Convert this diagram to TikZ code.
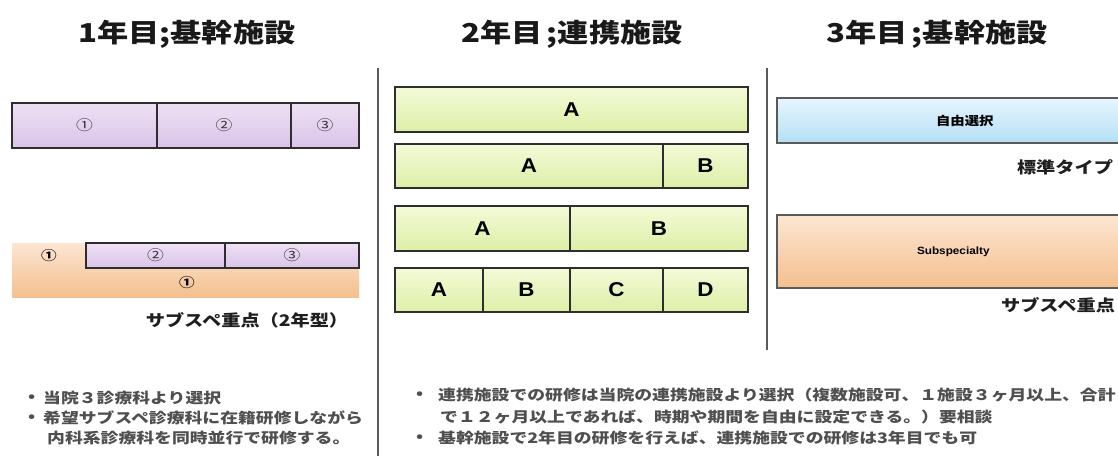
\documentclass[tikz,border=0pt]{standalone}
\usepackage{fontspec}
\newfontfamily\jp{Noto Sans CJK JP}[FakeStretch=1.2]
\newfontfamily\jpb{Noto Sans CJK JP}[FakeStretch=1.23]
\newfontfamily\lat{Liberation Sans}[FakeStretch=1.12]
\definecolor{pTop}{HTML}{EEE0F5}
\definecolor{pBot}{HTML}{D9C3E8}
\definecolor{gTop}{HTML}{F3FAD8}
\definecolor{gBot}{HTML}{DDEFA6}
\definecolor{bTop}{HTML}{E6F6FD}
\definecolor{bBot}{HTML}{B5DFF5}
\definecolor{oTop}{HTML}{FCE6D2}
\definecolor{oBot}{HTML}{F4BF8E}
\definecolor{edge}{HTML}{2E2E2E}
\definecolor{rule}{HTML}{5A5A5A}
\definecolor{txt}{HTML}{333333}
\definecolor{btxt}{HTML}{4F4F4F}
\begin{document}
\begin{tikzpicture}[x=1pt,y=-1pt,
  cellbase/.style={anchor=north west,inner sep=0pt,outer sep=0pt,draw=edge,line width=1.4pt},
  pcell/.style={cellbase,top color=pTop,bottom color=pBot,text=txt,font=\jp\fontsize{14}{15}\selectfont},
  gcell/.style={cellbase,top color=gTop,bottom color=gBot,text=black,font=\lat\bfseries\fontsize{20}{22}\selectfont},
  bcell/.style={cellbase,draw=rule,line width=1.2pt,top color=bTop,bottom color=bBot,font=\jp\bfseries\fontsize{12}{14}\selectfont},
  ocell/.style={cellbase,draw=rule,line width=1.2pt,top color=oTop,bottom color=oBot,font=\lat\bfseries\fontsize{10.5}{12}\selectfont},
  titletext/.style={font=\jp\bfseries\fontsize{26}{30}\selectfont,text=black!90,inner sep=0pt},
  label/.style={font=\jp\bfseries\fontsize{16}{18}\selectfont,text=black!88,inner sep=0pt},
  body/.style={font=\jpb\bfseries\fontsize{14.5}{16}\selectfont,text=btxt,inner sep=0pt,anchor=west},
  divider/.style={draw=rule,line width=2pt}
]
\useasboundingbox (0,0) rectangle (1118,456);
\clip (0,0) rectangle (1118,456);
\fill[white] (0,0) rectangle (1118,456);

% titles
\node[titletext] (t1) at (187,34) {1年目;基幹施設};
\node[titletext] (t2) at (572,34) {2年目\,;連携施設};
\node[titletext] (t3) at (937,34) {3年目\,;基幹施設};

% dividers
\coordinate (v1a) at (378,68);
\coordinate (v1b) at (378,456);
\coordinate (v2a) at (767,68);
\coordinate (v2b) at (767,350);
\draw[divider] (v1a) -- (v1b);
\draw[divider] (v2a) -- (v2b);

% year 1 standard
\node[pcell,minimum width=145pt,minimum height=45pt] (p1) at (12,103) {①};
\node[pcell,minimum width=134pt,minimum height=45pt] (p2) at (157,103) {②};
\node[pcell,minimum width=68pt,minimum height=45pt] (p3) at (291,103) {③};

% year 1 subspecialty
\node[anchor=north west,inner sep=0pt,outer sep=0pt,top color=oTop,bottom color=oBot,
  minimum width=347pt,minimum height=54pt] (ob) at (12,243) {};
\node[anchor=north west,inner sep=0pt,outer sep=0pt,minimum width=74pt,minimum height=26pt,
  font=\jp\bfseries\fontsize{13}{15}\selectfont] (o1) at (12,243) {①};
\node[pcell,minimum width=139pt,minimum height=25pt] (q2) at (86,243) {②};
\node[pcell,minimum width=134pt,minimum height=25pt] (q3) at (225,243) {③};
\node[font=\jp\bfseries\fontsize{13}{15}\selectfont,inner sep=0pt] (o2) at (187,283) {①};
\node[label] (l1) at (247,320) {サブスペ重点（2年型）};

% year 1 notes
\node[body] (n1b) at (28,398) {•};
\node[body] (n1) at (43,398) {当院３診療科より選択};
\node[body] (n2b) at (28,418) {•};
\node[body] (n2) at (43,418) {希望サブスペ診療科に在籍研修しながら};
\node[body] (n3) at (47,438) {内科系診療科を同時並行で研修する。};

% year 2
\node[gcell,minimum width=353pt,minimum height=45pt] (g1) at (395,87) {A};
\node[gcell,minimum width=268pt,minimum height=44pt] (g2a) at (395,144) {A};
\node[gcell,minimum width=85pt,minimum height=44pt] (g2b) at (663,144) {B};
\node[gcell,minimum width=175pt,minimum height=45pt] (g3a) at (395,206) {A};
\node[gcell,minimum width=178pt,minimum height=45pt] (g3b) at (570,206) {B};
\node[gcell,minimum width=88pt,minimum height=44pt] (g4a) at (395,268) {A};
\node[gcell,minimum width=87pt,minimum height=44pt] (g4b) at (483,268) {B};
\node[gcell,minimum width=93pt,minimum height=44pt] (g4c) at (570,268) {C};
\node[gcell,minimum width=85pt,minimum height=44pt] (g4d) at (663,268) {D};

% year 2 notes
\node[body] (m1b) at (416,395) {•};
\node[body] (m1) at (438,395) {連携施設での研修は当院の連携施設より選択（複数施設可、１施設３ヶ月以上、合計};
\node[body] (m2) at (440,417) {で１２ヶ月以上であれば、時期や期間を自由に設定できる。）要相談};
\node[body] (m3b) at (416,438) {•};
\node[body] (m3) at (438,438) {基幹施設で2年目の研修を行えば、連携施設での研修は3年目でも可};

% year 3
\node[bcell,minimum width=352pt,minimum height=45pt,text width=352pt,align=left] (b1) at (777,98) {\hspace*{159pt}自由選択};
\node[label] (l2) at (1065,167) {標準タイプ};
\node[ocell,minimum width=352pt,minimum height=73pt,text width=352pt,align=left] (o3) at (777,215) {\hspace*{140pt}Subspecialty};
\node[label] (l3) at (1058,305) {サブスペ重点};
\end{tikzpicture}
\end{document}
